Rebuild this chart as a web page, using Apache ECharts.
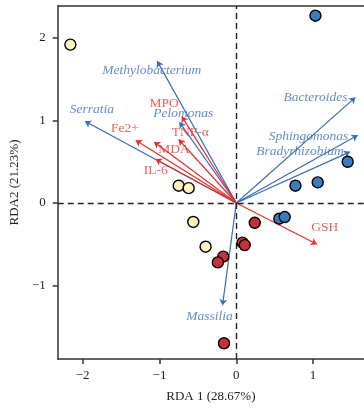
<!DOCTYPE html>
<html><head><meta charset="utf-8">
<script src="https://cdn.jsdelivr.net/npm/echarts@6/dist/echarts.min.js"></script>
<style>html,body{margin:0;padding:0;background:#fff}#c{width:364px;height:409px}</style>
</head><body><div id="c"></div>
<script>
// Sample scores (RDA1, RDA2)
const sampleYellow = [[-2.16,1.92],[-0.75,0.21],[-0.62,0.18],[-0.56,-0.23],[-0.40,-0.53]];
const sampleBlue = [[1.03,2.27],[1.45,0.50],[1.06,0.25],[0.77,0.21],[0.56,-0.19],[0.63,-0.17]];
const sampleRed = [[0.24,-0.24],[0.08,-0.48],[0.11,-0.51],[-0.17,-0.65],[-0.24,-0.72],[-0.16,-1.70]];
// Bacteria vectors
const bacteriaNames = ['Methylobacterium','Serratia','Pelomonas','Bacteroides','Sphingomonas','Bradyrhizobium','Massilia'];
const bacteriaVec = [[-1.03,1.72],[-1.97,0.99],[-0.74,0.98],[1.55,1.28],[1.58,0.82],[1.48,0.62],[-0.18,-1.24]];
const bacteriaLabelAt = [[-1.10,1.61],[-1.88,1.13],[-0.69,1.08],[1.03,1.28],[0.94,0.81],[0.83,0.62],[-0.35,-1.38]];
// Environmental vectors
const envNames = ['MPO','TNF-α','MDA','Fe2+','IL-6','GSH'];
const envVec = [[-0.71,1.05],[-0.75,0.77],[-1.07,0.74],[-1.31,0.76],[-1.05,0.53],[1.05,-0.50]];
const envLabelAt = [[-0.94,1.21],[-0.60,0.86],[-0.81,0.65],[-1.45,0.90],[-1.05,0.39],[1.15,-0.30]];
const xTicks = [-2,-1,0,1];
const yTicks = [-1,0,1,2];

const FONT = 'Liberation Serif';
const BLUE = '#3A6CB8', BLUE_T = '#3F6EBC', RED = '#E2302A', RED_T = '#E5382F';
const fmt = v => v < 0 ? '\u2212' + Math.abs(v) : String(v);

const chart = echarts.init(document.getElementById('c'), null, {renderer:'canvas'});
const axisCommon = {
  axisLine:{show:true,onZero:false,lineStyle:{color:'#333',width:1.5}},
  axisTick:{show:true,length:5,lineStyle:{color:'#333',width:1.5}},
  splitLine:{show:false},
  nameTextStyle:{fontFamily:FONT,fontSize:13,color:'#222'},
};
const pointSeries = (data, color) => ({
  type:'scatter', data, symbolSize:11, z:5,
  itemStyle:{color, borderColor:'#000', borderWidth:1.4, opacity:1}
});
const labelSeries = (names, pos, color, italic) => ({
  type:'scatter', symbolSize:1, z:6, silent:true,
  data: names.map((n,i)=>({name:n, value:pos[i]})),
  label:{show:true, position:'inside', formatter:p=>p.name, color, fontFamily:FONT, fontSize:13.5, fontStyle: italic?'italic':'normal'},
  itemStyle:{color:'rgba(0,0,0,0)'}
});
const arrowSeries = (vecs, color) => ({
  type:'lines', coordinateSystem:'cartesian2d', z:3,
  data: vecs.map(v=>({coords:[[0,0],v]})),
  symbol:['none','arrow'], symbolSize:[0,6],
  lineStyle:{color, width:1.2, opacity:1}
});

chart.setOption({
  animation:false,
  grid:{left:57, top:6, right:0, bottom:50},
  xAxis:[{
    ...axisCommon, type:'value', min:-179/77, max:128/77, position:'bottom',
    name:'RDA 1 (28.67%)', nameLocation:'middle', nameGap:31,
    axisTick:{...axisCommon.axisTick, customValues:xTicks},
    axisLabel:{customValues:xTicks, formatter:fmt, fontFamily:FONT, fontSize:13, color:'#222', margin:10}
  },{
    type:'value', min:-179/77, max:128/77, position:'top',
    axisLine:{show:true,onZero:false,lineStyle:{color:'#333',width:1.5}}, axisTick:{show:false}, axisLabel:{show:false}, splitLine:{show:false}
  }],
  yAxis:{
    ...axisCommon, type:'value', min:-156/82.5, max:197/82.5,
    name:'RDA2 (21.23%)', nameLocation:'middle', nameGap:33,
    axisTick:{...axisCommon.axisTick, customValues:yTicks},
    axisLabel:{customValues:yTicks, formatter:fmt, fontFamily:FONT, fontSize:13, color:'#222', margin:12}
  },
  series:[
    {type:'scatter', data:[], markLine:{silent:true, symbol:'none', label:{show:false},
      lineStyle:{type:[6,4], color:'#222', width:1.4},
      data:[{xAxis:0},{yAxis:0}]}},
    arrowSeries(bacteriaVec, BLUE),
    arrowSeries(envVec, RED),
    pointSeries(sampleYellow, '#FFF3BE'),
    pointSeries(sampleBlue, '#3A7DBD'),
    pointSeries(sampleRed, '#C9303A'),
    labelSeries(bacteriaNames, bacteriaLabelAt, BLUE_T, true),
    labelSeries(envNames, envLabelAt, RED_T, false)
  ]
});
</script></body></html>
